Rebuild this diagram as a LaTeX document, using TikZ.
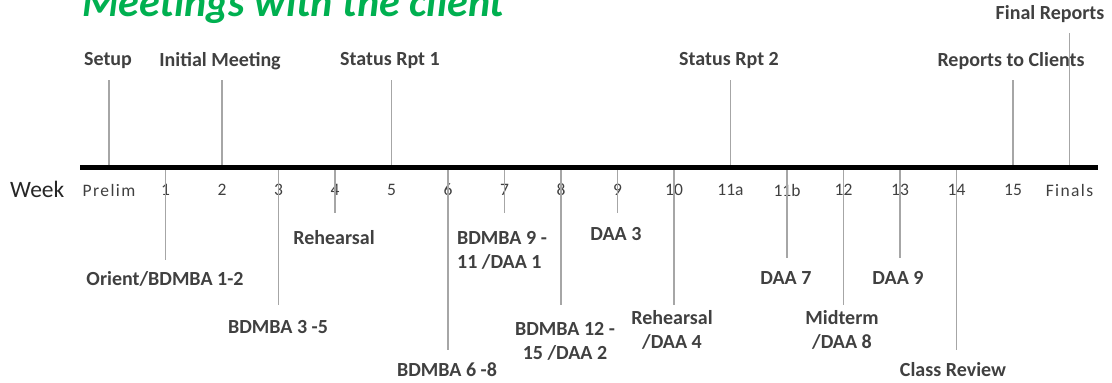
\documentclass[tikz,border=0pt]{standalone}
\usepackage{fontspec}
\setmainfont{Carlito}
\usetikzlibrary{positioning}

\newcommand{\spacedweek}[1]{{\addfontfeature{LetterSpace=8}#1}}

\begin{document}
\begin{tikzpicture}[x=1pt, y=-1pt, every node/.style={inner sep=0pt}]

\definecolor{TitleGreen}{HTML}{00B050}
\definecolor{LabelGrey}{HTML}{404040}
\colorlet{LighterLine}{black!35}

\tikzset{
  event/.style={font=\bfseries\fontsize{20}{24}\selectfont, text=LabelGrey, align=center},
  leftlab/.style={align=left},
  midlab/.style={align=center},
  weeknum/.style={font=\fontsize{17.5}{20}\selectfont, text=LabelGrey},
  eventline/.style={LighterLine, line width=1.3pt}
}

\useasboundingbox (0,0) rectangle (1112,383);

% Title
\node[anchor=base west, font=\bfseries\itshape\fontsize{42}{48}\selectfont, text=TitleGreen] (title) at (82,16) {Meetings with the client};

% Week numbers
\node[anchor=west, font=\fontsize{23.5}{26}\selectfont, text=black!85] (week) at (10,189) {Week};

\foreach \lab [count=\i from 0] in {{\spacedweek{Prelim}},1,2,3,4,5,6,7,8,9,10,11a,11b,12,13,14,15,{\spacedweek{Finals}}}
{
     \coordinate (a\i) at (109+56.5*\i,167);
     \node[weeknum] (w\i) at (109+56.5*\i,190) {\lab};
}

% Events above the line
\foreach \i/\top/\lx/\ly/\lab in {0/80/108/61/Setup,
                                  2/80/220/61/Initial Meeting,
                                  5/80/390/61/Status Rpt 1,
                                  11/80/729/61/Status Rpt 2,
                                  16/80/1011/61/Reports to Clients,
                                  17/33/1050/14/Final Reports}
{
     \coordinate (u\i) at (109+56.5*\i,\top);
     \node[event] (ul\i) at (\lx,\ly) {\lab};
     \draw[eventline] (a\i) -- (u\i);
}

% Events below the line
\foreach \i/\bot/\lx/\ly/\opt/\lab in {1/260/165/279/midlab/{Orient/BDMBA 1-2},
                                       3/305/278/327/midlab/{BDMBA 3 -5},
                                       4/213/334/238/midlab/{Rehearsal},
                                       6/350/447/370/midlab/{BDMBA 6 -8},
                                       7/213/502/250/leftlab/{BDMBA 9 -\\11 /DAA 1},
                                       8/305/565/341/midlab/{BDMBA 12 -\\15 /DAA 2},
                                       9/213/616/234/midlab/{DAA 3},
                                       10/305/672/330/midlab/{Rehearsal\\/DAA 4},
                                       12/258/786/278/midlab/{DAA 7},
                                       13/305/842/330/midlab/{Midterm\\/DAA 8},
                                       14/258/898/278/midlab/{DAA 9},
                                       15/350/953/370/midlab/{Class Review}}
{
     \coordinate (d\i) at (109+56.5*\i,\bot);
     \node[event,\opt] (dl\i) at (\lx,\ly) {\lab};
     \draw[eventline] (a\i) -- (d\i);
}

% Time line
\coordinate (axisL) at (80,167);
\coordinate (axisR) at (1098,167);
\draw[line width=5pt] (axisL) -- (axisR);

\end{tikzpicture}
\end{document}
